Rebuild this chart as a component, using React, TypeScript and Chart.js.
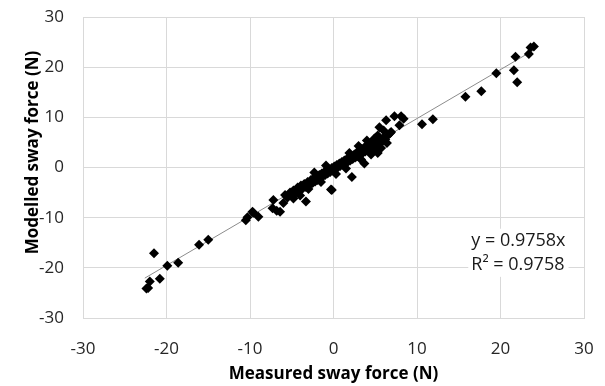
import React, { useEffect, useRef } from "react";
import { Chart, registerables } from "chart.js";

Chart.register(...registerables);

// Measured sway force (N) vs modelled sway force (N)
const measuredX: number[] = [
  24.0, 23.6, 23.4, 21.8, 21.6, 22.0, 19.5, 17.7, 15.8, 11.9, 10.6,
  8.1, 8.4, 7.3, 6.3, 5.5, 7.9, 5.1, 3.7, 5.3, 2.2, -0.2, 6.9, 4.9,
  -5.8, -5.5, -5.2, -5.0, -4.8, -4.6, -4.3, -4.1, -3.9, -3.7, -3.5, -3.3,
  -3.1, -2.9, -2.7, -2.5, -2.4, -2.2, -2.0, -1.9, -1.7, -1.6, -1.4, -1.3,
  -1.1, -1.0, -0.8, -0.7, -0.5, -0.4, -0.2, -0.1, 0.1, 0.2, 0.4, 0.5,
  0.7, 0.8, 1.0, 1.1, 1.3, 1.4, 1.6, 1.7, 1.9, 2.0, 2.2, 2.3,
  2.5, 2.6, 2.8, 2.9, 3.1, 3.2, 3.4, 3.5, 3.7, 3.8, 4.0, 4.1,
  4.3, 4.4, 4.6, 4.8, 5.0, 5.2, 5.4, 5.6, 5.9, 6.2, 6.5, 6.8,
  -21.5, -19.9, -20.8, -22.0, -22.4, -22.2, -18.6, -16.1, -15.0,
  -10.5, -10.3, -9.7, -9.0, -9.6, -7.2, -7.3, -6.4, -6.0, -5.4, -4.8,
  -3.3, -4.2, -2.8, -0.3, -3.8, -3.0, -6.8,
  5.7, 6.4, 4.5, 3.3, 1.5, 0.3, -1.5, -3.0, -4.0, -0.9, -2.3, 1.9,
  3.0, 4.0, 5.3, 6.0, 4.7, 2.7,
];

const modelledY: number[] = [
  24.1, 23.9, 22.6, 22.1, 19.4, 17.0, 18.8, 15.2, 14.1, 9.6, 8.6,
  10.2, 9.7, 10.2, 9.4, 8.0, 8.4, 6.0, 0.8, 2.9, -1.9, -4.5, 7.1, 5.8,
  -5.5, -6.0, -5.0, -5.6, -4.6, -5.2, -4.0, -4.7, -3.6, -4.2, -3.3, -3.9,
  -2.9, -3.5, -2.5, -3.1, -2.2, -2.8, -1.9, -2.5, -1.5, -2.1, -1.2, -1.8,
  -0.9, -1.5, -0.6, -1.2, -0.4, -0.9, -0.1, -0.6, 0.2, -0.3, 0.5, 0.0,
  0.8, 0.3, 1.1, 0.6, 1.4, 0.9, 1.7, 1.1, 2.0, 1.4, 2.3, 1.7,
  2.6, 2.0, 3.0, 2.3, 3.3, 2.6, 3.7, 2.9, 4.0, 3.2, 4.4, 3.5,
  4.8, 3.8, 5.1, 4.1, 5.5, 4.5, 5.2, 4.8, 5.8, 5.6, 6.4, 6.9,
  -17.1, -19.6, -22.2, -22.7, -24.1, -24.0, -19.0, -15.4, -14.4,
  -10.5, -9.9, -8.8, -9.8, -9.0, -6.5, -8.1, -8.8, -7.1, -5.5, -6.2,
  -6.8, -4.5, -3.2, -4.4, -3.8, -3.2, -8.6,
  3.9, 4.9, 2.6, 1.6, -0.2, -1.3, -2.9, -4.3, -5.6, 0.4, -1.0, 2.9,
  4.3, 5.4, 6.4, 7.4, 3.6, 2.2,
];

const trendSlope = 0.9758;
const trendRange: number[] = [-22.6, 24.0];
const axisTicks: number[] = [-30, -20, -10, 0, 10, 20, 30];
const xTitle = "Measured sway force (N)";
const yTitle = "Modelled sway force (N)";
const equationLines: string[] = ["y = 0.9758x", "R\u00B2 = 0.9758"];
const equationAnchor = { x: 16.5, y: [-14.6, -19.4] };

const FONT = "'Open Sans', Lato, sans-serif";

const labelsPlugin = {
  id: "customLabels",
  afterDatasetsDraw(chart: any) {
    const { ctx, scales, chartArea } = chart;
    const xs = scales.x;
    const ys = scales.y;
    ctx.save();
    // equation box
    ctx.font = `18px ${FONT}`;
    const left = xs.getPixelForValue(equationAnchor.x);
    const widths = equationLines.map((t) => ctx.measureText(t).width);
    const w = Math.max(...widths);
    const y0 = ys.getPixelForValue(equationAnchor.y[0]);
    const y1 = ys.getPixelForValue(equationAnchor.y[1]);
    ctx.fillStyle = "#ffffff";
    ctx.fillRect(left - 3, y0 - 12, w + 6, y1 - y0 + 24);
    ctx.fillStyle = "#1a1a1a";
    ctx.textAlign = "left";
    ctx.textBaseline = "middle";
    equationLines.forEach((t, i) => {
      ctx.fillText(t, left, ys.getPixelForValue(equationAnchor.y[i]));
    });
    // y axis title
    ctx.font = `bold 17px ${FONT}`;
    ctx.fillStyle = "#000000";
    ctx.textAlign = "center";
    ctx.translate(33, (chartArea.top + chartArea.bottom) / 2 - 15);
    ctx.rotate(-Math.PI / 2);
    ctx.fillText(yTitle, 0, 0);
    ctx.restore();
  },
};

export default function App() {
  const canvasRef = useRef<HTMLCanvasElement | null>(null);

  useEffect(() => {
    const canvas = canvasRef.current;
    if (!canvas) return;
    const points = measuredX.map((x, i) => ({ x, y: modelledY[i] }));
    const trend = trendRange.map((x) => ({ x, y: trendSlope * x }));
    const gridColor = "#d9d9d9";
    const chart = new Chart(canvas, {
      type: "scatter",
      data: {
        datasets: [
          {
            type: "line",
            data: trend,
            borderColor: "#8c8c8c",
            borderWidth: 1,
            pointRadius: 0,
            fill: false,
            order: 2,
          } as any,
          {
            data: points,
            pointStyle: "rectRot",
            pointRadius: 5,
            backgroundColor: "#000000",
            borderColor: "#000000",
            borderWidth: 0,
            order: 1,
          },
        ],
      },
      options: {
        responsive: false,
        animation: false,
        layout: { padding: { top: 17, right: 21, bottom: 0, left: 0 } },
        plugins: {
          legend: { display: false },
          tooltip: { enabled: false },
        },
        scales: {
          x: {
            type: "linear",
            min: -30,
            max: 30,
            afterBuildTicks: (scale: any) => {
              scale.ticks = axisTicks.map((v) => ({ value: v }));
            },
            afterFit: (scale: any) => {
              scale.height = 68;
              scale.paddingLeft = 0;
              scale.paddingRight = 0;
            },
            grid: { color: gridColor, drawTicks: false },
            border: { color: gridColor },
            ticks: {
              padding: 21,
              color: "#262626",
              font: { family: FONT, size: 17 },
            },
            title: {
              display: true,
              text: xTitle,
              color: "#000000",
              font: { family: FONT, size: 17, weight: "bold" },
              padding: { top: 0, bottom: 2 },
            },
          },
          y: {
            type: "linear",
            min: -30,
            max: 30,
            afterBuildTicks: (scale: any) => {
              scale.ticks = axisTicks.map((v) => ({ value: v }));
            },
            afterFit: (scale: any) => {
              scale.width = 83;
              scale.paddingTop = 0;
              scale.paddingBottom = 0;
            },
            grid: { color: gridColor, drawTicks: false },
            border: { color: gridColor },
            ticks: {
              padding: 19,
              color: "#262626",
              font: { family: FONT, size: 17 },
            },
          },
        },
      },
      plugins: [labelsPlugin],
    });
    return () => chart.destroy();
  }, []);

  return (
    <div style={{ position: "absolute", left: 0, top: 0, width: 605, height: 386, background: "#fff" }}>
      <canvas ref={canvasRef} width={605} height={386} />
    </div>
  );
}
